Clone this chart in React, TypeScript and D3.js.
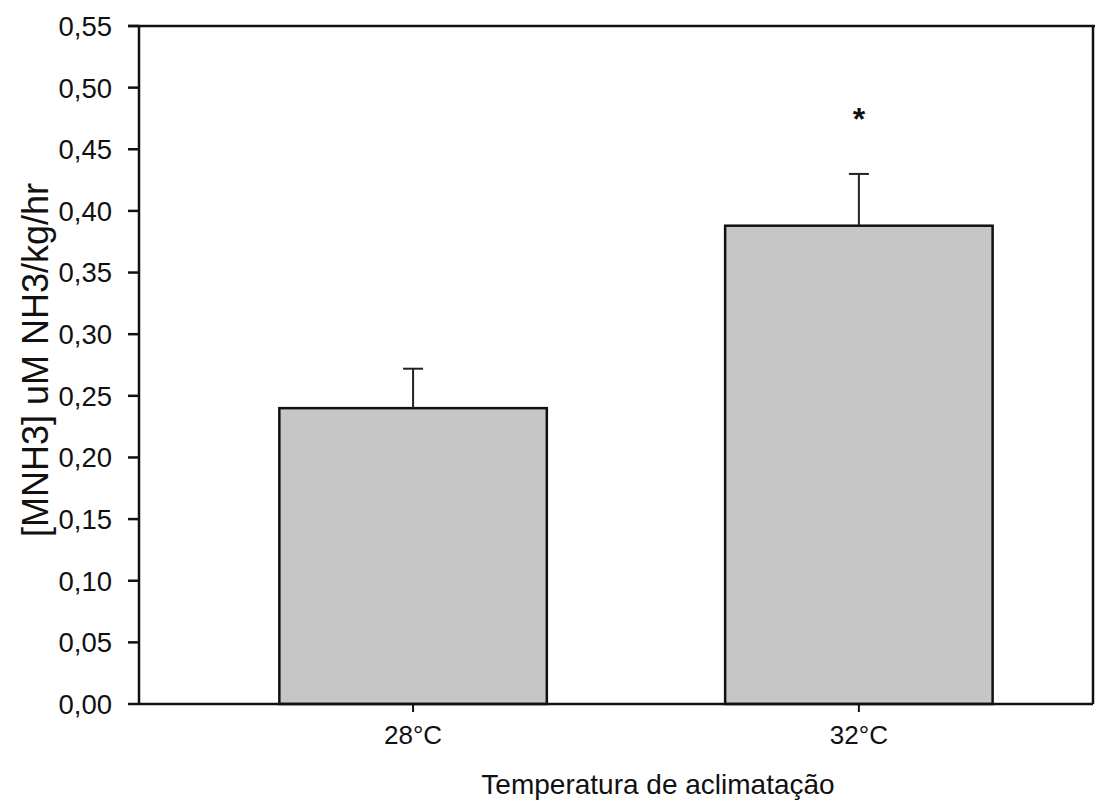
import React from "react";
import * as d3 from "d3";

// values
const categories = ["28°C", "32°C"];
const means = [0.24, 0.388];
const upper = [0.272, 0.43];
const significant = [false, true];
const yTicks = [0, 0.05, 0.1, 0.15, 0.2, 0.25, 0.3, 0.35, 0.4, 0.45, 0.5, 0.55];

const W = 1095;
const H = 806;
const left = 139;
const right = 1093;
const top = 26;
const bottom = 704;
const font = "'Liberation Sans', Arial, Helvetica, sans-serif";

const App = () => {
  const y = d3.scaleLinear([0, 0.55], [bottom, top]);
  const x = d3
    .scaleBand<string>()
    .domain(categories)
    .range([left, right])
    .paddingInner(0.4)
    .paddingOuter(0.27)
    .align(0.583);
  const bw = x.bandwidth();
  const fmt = (v: number) => d3.format(".2f")(v).replace(".", ",");

  return (
    <svg
      width={W}
      height={H}
      style={{ position: "absolute", left: 0, top: 0, background: "#fff" }}
      fontFamily={font}
    >
      {/* bars */}
      {categories.map((c, i) => (
        <rect
          key={c}
          x={x(c)}
          y={y(means[i])}
          width={bw}
          height={y(0) - y(means[i])}
          fill="#c6c6c6"
          stroke="#111"
          strokeWidth={2.5}
        />
      ))}

      {/* error bars (upper only) */}
      <g stroke="#222" strokeWidth={2}>
        {categories.map((c, i) => {
          const cx = (x(c) as number) + bw / 2;
          return (
            <g key={c}>
              <line x1={cx} x2={cx} y1={y(means[i])} y2={y(upper[i])} />
              <line x1={cx - 10} x2={cx + 10} y1={y(upper[i])} y2={y(upper[i])} />
            </g>
          );
        })}
      </g>

      {categories.map((c, i) =>
        significant[i] ? (
          <text
            key={c}
            x={(x(c) as number) + bw / 2}
            y={y(upper[i]) - 60}
            textAnchor="middle"
            dy="0.5em"
            fontSize={32}
            fontWeight="bold"
            fill="#111"
          >
            *
          </text>
        ) : null
      )}

      {/* frame */}
      <g stroke="#111" strokeWidth={2.5} fill="none">
        <line x1={left} x2={left} y1={top} y2={bottom} />
        <line x1={128} x2={W} y1={top} y2={top} />
        <line x1={left} x2={right} y1={bottom} y2={bottom} />
        <line x1={right} x2={right} y1={top} y2={bottom} />
      </g>

      {/* y axis */}
      {yTicks.map((t) => (
        <g key={t}>
          <line x1={128} x2={left} y1={y(t)} y2={y(t)} stroke="#111" strokeWidth={2.5} />
          <text x={112} y={y(t)} dy="0.36em" textAnchor="end" fontSize={27.5} fill="#111">
            {fmt(t)}
          </text>
        </g>
      ))}

      {/* x axis */}
      {categories.map((c) => {
        const cx = (x(c) as number) + bw / 2;
        return (
          <g key={c}>
            <line x1={cx} x2={cx} y1={bottom} y2={bottom + 8} stroke="#111" strokeWidth={2} />
            <text x={cx} y={bottom + 40} textAnchor="middle" fontSize={26} fill="#111">
              {c}
            </text>
          </g>
        );
      })}

      <text x={658} y={794} textAnchor="middle" fontSize={28} fill="#111">
        Temperatura de aclimatação
      </text>
      <text
        transform={`translate(48, 360) rotate(-90)`}
        textAnchor="middle"
        fontSize={36}
        fill="#111"
      >
        [MNH3] uM NH3/kg/hr
      </text>
    </svg>
  );
};

export default App;
